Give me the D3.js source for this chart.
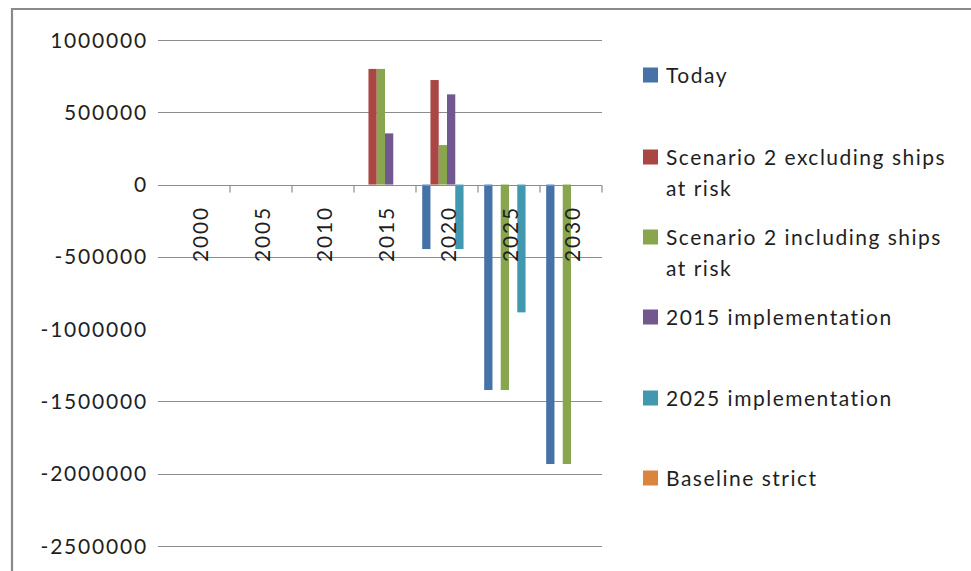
<!DOCTYPE html>
<html>
<head>
<meta charset="utf-8">
<script src="https://cdn.jsdelivr.net/npm/d3@7"></script>
<style>
  html, body { margin: 0; padding: 0; background: #fff; }
  svg text { font-family: Lato, "Open Sans", sans-serif; fill: #1f1f1f; }
</style>
</head>
<body>
<svg id="chart" width="971" height="571"></svg>
<script>
// Change per period for each scenario
const years = ["2000", "2005", "2010", "2015", "2020", "2025", "2030"];
const seriesNames = [
  "Today",
  "Scenario 2 excluding ships at risk",
  "Scenario 2 including ships at risk",
  "2015 implementation",
  "2025 implementation",
  "Baseline strict"
];
const today        = [0, 0, 0, 0, -446000, -1421000, -1933000];
const scen2Excl    = [0, 0, 0, 800000, 723000, 0, 0];
const scen2Incl    = [0, 0, 0, 800000, 273000, -1421000, -1933000];
const impl2015     = [0, 0, 0, 354000, 624000, 0, 0];
const impl2025     = [0, 0, 0, 0, -446000, -884000, 0];
const baseStrict   = [0, 0, 0, 0, 0, 0, 0];
const seriesValues = [today, scen2Excl, scen2Incl, impl2015, impl2025, baseStrict];
const yTicks = [1000000, 500000, 0, -500000, -1000000, -1500000, -2000000, -2500000];
const gridValues = [1000000, 500000, 0, -500000, -1500000, -2000000, -2500000];
const legendLines = [
  ["Today"],
  ["Scenario 2 excluding ships", "at risk"],
  ["Scenario 2 including ships", "at risk"],
  ["2015 implementation"],
  ["2025 implementation"],
  ["Baseline strict"]
];
const colors = ["#4572A7", "#AA4643", "#89A54E", "#71588F", "#4198AF", "#DB843D"];

const svg = d3.select("#chart");
const plot = { left: 168, right: 602, top: 40, bottom: 546 };

// outer frame (left and top edges)
svg.append("path")
  .attr("d", `M12,571 V9 H971`)
  .attr("fill", "none").attr("stroke", "#8a8a8a").attr("stroke-width", 2.2);

const x0 = d3.scaleBand().domain(years).range([plot.left, plot.right]).paddingInner(0).paddingOuter(0);
const bw = x0.bandwidth();
const x1 = d3.scaleBand().domain(d3.range(seriesNames.length)).range([bw * 0.1, bw * 0.9]).padding(0);
const y = d3.scaleLinear().domain([-2500000, 1000000]).range([plot.bottom, plot.top]);

// horizontal gridlines with the outward tick stubs
svg.append("g").selectAll("line").data(gridValues).join("line")
  .attr("x1", plot.left - 10).attr("x2", plot.right)
  .attr("y1", d => Math.round(y(d)) + 0.5).attr("y2", d => Math.round(y(d)) + 0.5)
  .attr("stroke", "#8c8c8c").attr("stroke-width", 1.2);

// value axis labels (plain hyphen for negatives)
svg.append("g").selectAll("text").data(yTicks).join("text")
  .attr("x", 148).attr("y", d => y(d))
  .attr("dy", "0.36em")
  .attr("text-anchor", "end")
  .style("font-size", "21px").style("letter-spacing", "1.8px")
  .text(d => String(d));

// bars
const groups = svg.append("g").selectAll("g").data(years).join("g")
  .attr("transform", d => `translate(${x0(d)},0)`);
groups.selectAll("rect")
  .data((d, i) => seriesValues.map((vals, s) => ({ s, v: vals[i] })))
  .join("rect")
  .attr("x", d => x1(d.s))
  .attr("width", x1.bandwidth())
  .attr("y", d => y(Math.max(0, d.v)))
  .attr("height", d => Math.abs(y(d.v) - y(0)))
  .attr("fill", d => colors[d.s]);

// category axis on the zero line
const y0 = Math.round(y(0)) + 0.5;
svg.append("line").attr("x1", plot.left).attr("x2", plot.right)
  .attr("y1", y0).attr("y2", y0).attr("stroke", "#8c8c8c").attr("stroke-width", 1.2);
svg.append("g").selectAll("line").data(years.slice(1).concat(["end"])).join("line")
  .attr("x1", (d, i) => plot.left + bw * (i + 1)).attr("x2", (d, i) => plot.left + bw * (i + 1))
  .attr("y1", y0).attr("y2", y0 + 7)
  .attr("stroke", "#8c8c8c").attr("stroke-width", 1.2);

// rotated year labels
svg.append("g").selectAll("text").data(years).join("text")
  .attr("transform", d => `translate(${x0(d) + bw / 2 + 1},262) rotate(-90)`)
  .attr("dy", "0.36em")
  .attr("text-anchor", "start")
  .style("font-size", "21px").style("letter-spacing", "1.8px")
  .text(d => d);

// legend
const legendTop = [75, 157, 237, 317, 398, 478];
const lg = svg.append("g").selectAll("g").data(seriesNames).join("g")
  .attr("transform", (d, i) => `translate(643,${legendTop[i]})`);
lg.append("rect").attr("x", 0).attr("y", -7.5).attr("width", 15).attr("height", 15)
  .attr("fill", (d, i) => colors[i]);
lg.each(function (d, i) {
  const t = d3.select(this).append("text").attr("x", 23)
    .style("font-size", "21px").style("letter-spacing", "1.5px");
  legendLines[i].forEach((line, k) => {
    t.append("tspan").attr("x", 23).attr("y", k * 31).attr("dy", "0.36em").text(line);
  });
});
</script>
</body>
</html>
